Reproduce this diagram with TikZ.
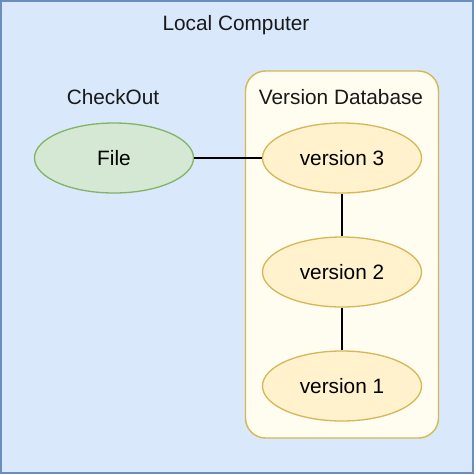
\documentclass[tikz,border=0pt]{standalone}
\usepackage{fontspec}
\setmainfont{Liberation Sans}
\usepackage{xcolor}
\usepackage{tikz}
\usetikzlibrary{shapes.geometric}

\definecolor{pcblue}{HTML}{DAE8FC}
\definecolor{pcline}{HTML}{6C8EBF}
\definecolor{filegreen}{HTML}{D5E8D4}
\definecolor{fileline}{HTML}{82B366}
\definecolor{vyellow}{HTML}{FFF2CC}
\definecolor{vline}{HTML}{D6B656}
\definecolor{dbfill}{HTML}{FFFCF0}

\begin{document}
\begin{tikzpicture}[
    x=1pt, y=-1pt,
    % ── boxes ──
    computer/.style={draw=pcline, fill=pcblue, line width=1.6pt, minimum width=472pt, minimum height=472pt, inner sep=0pt},
    database/.style={draw=vline, fill=dbfill, line width=1.4pt, rounded corners=20pt,
                     minimum width=193pt, minimum height=367pt, inner sep=0pt},
    % ── ellipses ──
    blob/.style={ellipse, line width=1.3pt, minimum width=159pt, minimum height=70pt, inner sep=0pt,
                 font=\fontsize{20.8}{25}\selectfont},
    filenode/.style={blob, draw=fileline, fill=filegreen},
    version/.style={blob, draw=vline, fill=vyellow},
    caption/.style={font=\fontsize{20.8}{25}\selectfont, text=black!90},
    link/.style={line width=1.3pt, black},
]

\useasboundingbox (0,0) rectangle (475,475);

% ══════════════════════════════════════
% Local computer
% ══════════════════════════════════════
\node[computer] (pc) at (237,237) {};
\node[caption] (pctitle) at (236,25) {Local Computer};

% ══════════════════════════════════════
% Checked out file
% ══════════════════════════════════════
\node[caption] (cotitle) at (113,97) {CheckOut};
\node[filenode] (file) at (114,158) {File};

% ══════════════════════════════════════
% Version database
% ══════════════════════════════════════
\node[database] (db) at (342,254.5) {};
\node[caption] (dbtitle) at (341,97) {Version Database};

\node[version] (v3) at (342,158) {version 3};
\node[version] (v2) at (342,272) {version 2};
\node[version] (v1) at (342,386) {version 1};

% Links
\draw[link] (file) -- (v3);
\draw[link] (v3) -- (v2);
\draw[link] (v2) -- (v1);

\end{tikzpicture}
\end{document}
